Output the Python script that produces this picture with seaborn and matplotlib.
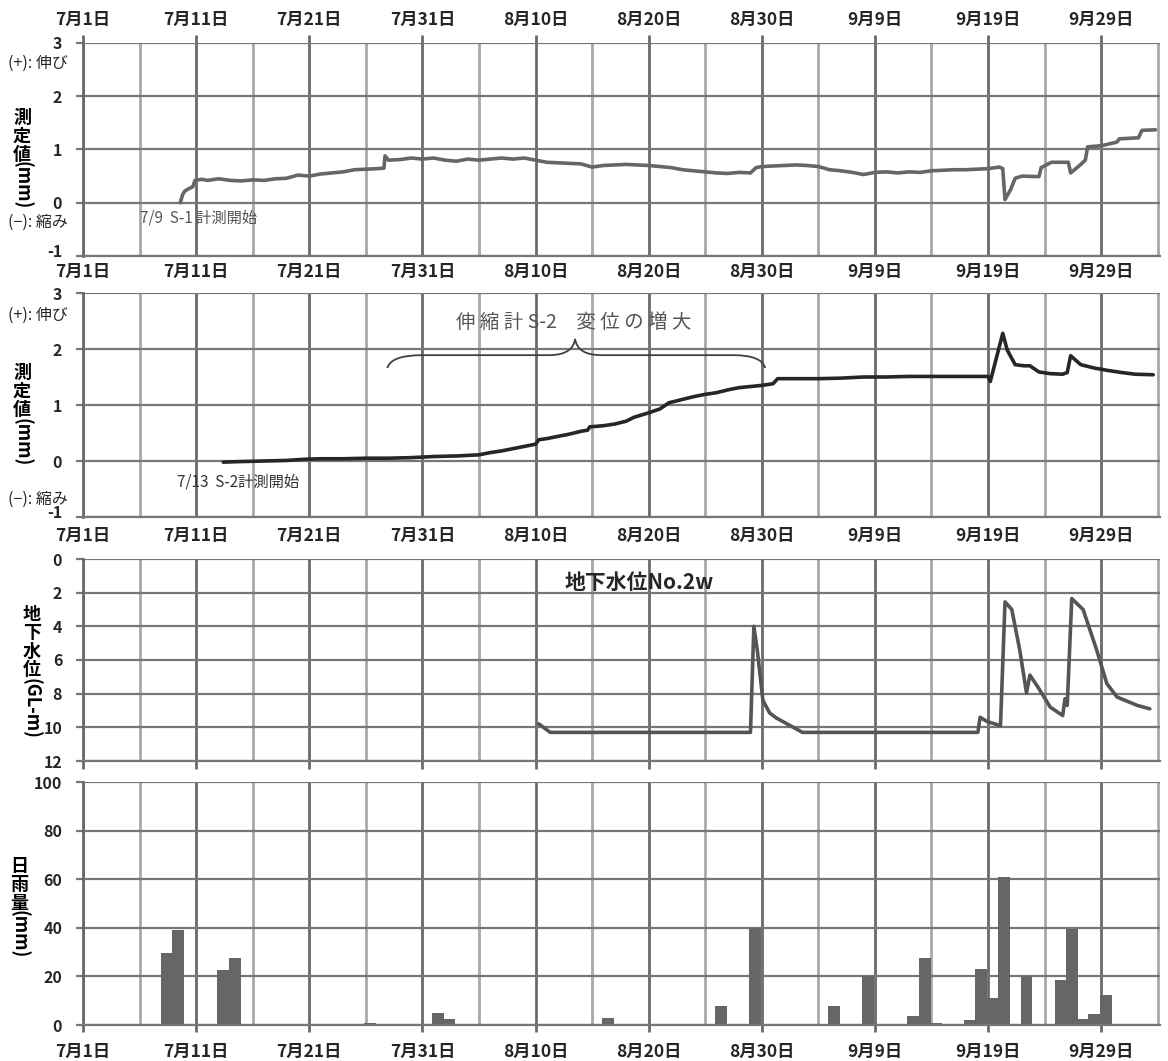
import numpy as np
import pandas as pd
import matplotlib
matplotlib.use('Agg')
import matplotlib.pyplot as plt
import matplotlib.transforms as mtransforms
from matplotlib.path import Path
from matplotlib.patches import PathPatch
import seaborn as sns

# 横軸は 7/1 からの経過日数
major_days = [0, 10, 20, 30, 40, 50, 60, 70, 80, 90]
minor_days = [5, 15, 25, 35, 45, 55, 65, 75, 85, 95]
date_labels = ['7月1日', '7月11日', '7月21日', '7月31日', '8月10日',
               '8月20日', '8月30日', '9月9日', '9月19日', '9月29日']

# 伸縮計 S-1 (mm)
s1_day = [8.6, 8.8, 9.0, 9.4, 9.7, 9.9, 10.5, 11, 12, 13, 14, 15, 16, 17, 18, 19, 20, 21, 22, 23,
          24, 25, 26, 26.6, 26.7, 27, 28, 29, 30, 31, 32, 33, 34, 35, 36, 37, 38, 39, 40, 41,
          42, 43, 44, 45, 46, 47, 48, 49, 50, 51, 52, 53, 54, 55, 56, 57, 58, 59, 59.5, 60,
          61, 62, 63, 64, 65, 66, 67, 68, 69, 70, 71, 72, 73, 74, 75, 76, 77, 78, 79, 80,
          81.0, 81.3, 81.5, 82.0, 82.4, 83, 84.5, 84.7, 85.6, 87.1, 87.3, 88.2, 88.6, 88.8, 90, 91,
          91.4, 91.6, 93.3, 93.6, 94.8]
s1_mm = [0.00, 0.15, 0.22, 0.27, 0.30, 0.42, 0.44, 0.42, 0.45, 0.42, 0.41, 0.43, 0.42, 0.45, 0.46, 0.52, 0.50, 0.54, 0.56, 0.58,
         0.62, 0.63, 0.64, 0.65, 0.88, 0.80, 0.81, 0.84, 0.82, 0.84, 0.80, 0.78, 0.82, 0.80, 0.82, 0.84, 0.82, 0.84, 0.80, 0.76,
         0.75, 0.74, 0.73, 0.67, 0.70, 0.71, 0.72, 0.71, 0.70, 0.68, 0.66, 0.62, 0.60, 0.58, 0.56, 0.55, 0.57, 0.56, 0.66, 0.68,
         0.69, 0.70, 0.71, 0.70, 0.68, 0.62, 0.60, 0.57, 0.53, 0.57, 0.58, 0.56, 0.58, 0.57, 0.60, 0.61, 0.62, 0.62, 0.63, 0.64,
         0.67, 0.64, 0.06, 0.25, 0.46, 0.50, 0.49, 0.66, 0.76, 0.76, 0.56, 0.72, 0.80, 1.05, 1.07, 1.12,
         1.14, 1.20, 1.22, 1.36, 1.37]

# 伸縮計 S-2 (mm)
s2_day = [12.4, 14, 16, 18, 19.5, 21, 23, 25, 27, 29, 31, 33, 35, 36, 37, 38, 39, 40, 40.3, 41,
          42, 43, 44, 44.6, 44.8, 46, 47, 48, 48.7, 49.5, 50, 51, 51.8, 53, 54, 55, 56, 57, 58, 59,
          60, 61, 61.4, 63, 65, 67, 69, 71, 73, 75, 77, 80, 80.2, 81.3, 81.7, 82.4, 83.2, 83.7, 84.5, 85.5,
          86.6, 87.0, 87.3, 88.2, 89.4, 90.5, 91.8, 93, 94.6]
s2_mm = [-0.02, -0.01, 0.00, 0.01, 0.03, 0.04, 0.04, 0.05, 0.05, 0.06, 0.08, 0.09, 0.11, 0.15, 0.18, 0.22, 0.26, 0.30, 0.38, 0.40,
         0.44, 0.48, 0.53, 0.55, 0.61, 0.63, 0.66, 0.71, 0.78, 0.83, 0.86, 0.93, 1.04, 1.10, 1.15, 1.19, 1.22, 1.27, 1.31, 1.33,
         1.35, 1.38, 1.47, 1.47, 1.47, 1.48, 1.50, 1.50, 1.51, 1.51, 1.51, 1.51, 1.42, 2.28, 1.98, 1.72, 1.70, 1.70, 1.59, 1.56,
         1.55, 1.58, 1.88, 1.72, 1.66, 1.62, 1.58, 1.55, 1.54]

# 地下水位 No.2w (GL-m)
gw_day = [40.3, 41.3, 59.0, 59.3, 59.6, 60.1, 60.7, 61.3, 63.6, 79.1, 79.3, 79.9, 81.1, 81.5, 82.1,
          82.8, 83.4, 83.7, 84.4, 85.5, 86.6, 86.8, 87.0, 87.4, 88.4, 89.6, 90.5, 91.4, 93.2, 94.3]
gw_m = [9.8, 10.3, 10.3, 4.0, 5.4, 8.4, 9.15, 9.45, 10.3, 10.3, 9.4, 9.65, 9.9, 2.55, 3.0,
        5.4, 7.95, 6.9, 7.6, 8.8, 9.3, 8.3, 8.7, 2.35, 3.0, 5.4, 7.4, 8.2, 8.7, 8.9]

# 日雨量 (mm)
rain_day = [7, 8, 12, 13, 16, 25, 31, 32, 38, 46, 56, 59, 66, 69, 73, 74, 75, 78, 79, 80,
            81, 83, 86, 87, 88, 89, 90]
rain_mm = [29.5, 39, 22.5, 27.5, 0.5, 1, 5, 2.5, 0.5, 3, 8, 40, 7.8, 20, 3.5, 27.5, 1, 2, 23, 11,
           61, 20, 18.5, 39.5, 2.5, 4.5, 12.5]

sns.set_theme(style='white')
plt.rcParams['font.family'] = ['Noto Sans CJK JP', 'DejaVu Sans']
plt.rcParams['axes.unicode_minus'] = False

W, H = 1168, 1061
fig = plt.figure(figsize=(W / 100, H / 100), dpi=100)
fig.patch.set_facecolor('white')


def box(l, t, r, b):
    return [l / W, 1 - b / H, (r - l) / W, (b - t) / H]


def ftext(x, y, s, **kw):
    fig.text(x / W, 1 - y / H, s, **kw)


ax1 = fig.add_axes(box(83, 43, 1160, 256))
ax2 = fig.add_axes(box(83, 293, 1160, 517))
ax3 = fig.add_axes(box(83, 559, 1160, 761))
ax4 = fig.add_axes(box(83, 782, 1160, 1025))

sns.lineplot(x=s1_day, y=s1_mm, ax=ax1, color='#666666', lw=2.6, estimator=None, sort=False)
sns.lineplot(x=s2_day, y=s2_mm, ax=ax2, color='#262626', lw=2.6, estimator=None, sort=False)
sns.lineplot(x=gw_day, y=gw_m, ax=ax3, color='#555555', lw=2.6, estimator=None, sort=False)
sns.barplot(x=[d + 0.4 for d in rain_day], y=rain_mm, ax=ax4, native_scale=True, orient='x',
            width=1.05, color='#666666', saturation=1, errorbar=None, linewidth=0)

TICK_FS = 12.5


def style(ax, ylim, yticks):
    ax.set_xlim(0, 95.2)
    ax.set_ylim(*ylim)
    ax.set_yticks(yticks, labels=[str(v) for v in yticks], fontweight='bold', fontsize=11.5)
    ax.set_xticks(major_days, labels=date_labels, fontweight='bold', fontsize=TICK_FS)
    ax.set_xticks(minor_days, minor=True)
    ax.grid(True, which='major', axis='x', color='#6a6a6a', lw=2)
    ax.grid(True, which='minor', axis='x', color='#a8a8a8', lw=2)
    ax.grid(True, which='major', axis='y', color='#777777', lw=1.6)
    ax.set_axisbelow(True)
    ax.set_xlabel('')
    ax.set_ylabel('')
    for s in ['top', 'right']:
        ax.spines[s].set_visible(False)
    ax.spines['left'].set_color('#6a6a6a')
    ax.spines['left'].set_linewidth(2)
    ax.spines['bottom'].set_color('#777777')
    ax.spines['bottom'].set_linewidth(1.6)
    ax.tick_params(axis='y', left=True, length=5, width=1.6, color='#777777', pad=10)
    ax.tick_params(axis='x', which='minor', length=0)


style(ax1, (-1, 3), [-1, 0, 1, 2, 3])
style(ax2, (-1, 3), [-1, 0, 1, 2, 3])
style(ax3, (12, 0), [0, 2, 4, 6, 8, 10, 12])
style(ax4, (0, 100), [0, 20, 40, 60, 80, 100])

ax1.tick_params(axis='x', which='major', bottom=True, length=0, pad=5)
top = ax1.secondary_xaxis('top')
top.set_xticks(major_days, labels=date_labels, fontweight='bold', fontsize=TICK_FS)
top.tick_params(length=6, width=2, color='#6a6a6a', pad=4)
top.spines['top'].set_visible(False)
ax2.tick_params(axis='x', which='major', bottom=True, length=0, pad=7)
ax3.tick_params(axis='x', which='major', bottom=True, labelbottom=False, length=6, width=2, color='#6a6a6a')
ax4.tick_params(axis='x', which='major', bottom=True, length=5, width=2, color='#6a6a6a', pad=8)

# 一番下の "-1" を少し上へずらして日付ラベルと重ならないようにする
fig.canvas.draw()
lift = mtransforms.ScaledTranslation(0, 5 / 100, fig.dpi_scale_trans)
for ax in (ax1, ax2):
    lbl = ax.get_yticklabels()[0]
    lbl.set_transform(lbl.get_transform() + lift)

# 縦書きの軸ラベル
lab = dict(ha='center', fontsize=13, fontweight='bold', color='black')
ftext(22, 136, '測\n定\n値', va='center', linespacing=0.95, **lab)
ftext(22, 161, '(mm)', va='top', rotation=-90, **lab)
ftext(22, 391, '測\n定\n値', va='center', linespacing=0.95, **lab)
ftext(22, 418, '(mm)', va='top', rotation=-90, **lab)
ftext(32, 642, '地\n下\n水\n位', va='center', linespacing=0.95, **lab)
ftext(31, 678, '(GL-m)', va='top', rotation=-90, **lab)
ftext(19, 885, '日\n雨\n量', va='center', linespacing=0.95, **lab)
ftext(19, 910, '(mm)', va='top', rotation=-90, **lab)

# 注記
ftext(8, 63, '(+): 伸び', ha='left', va='center', fontsize=11.5)
ftext(8, 222, '(−): 縮み', ha='left', va='center', fontsize=11.5)
ftext(8, 315, '(+): 伸び', ha='left', va='center', fontsize=11.5)
ftext(8, 499, '(−): 縮み', ha='left', va='center', fontsize=11.5)
ftext(140, 218, '7/9  S-1 計測開始', ha='left', va='center', fontsize=11, color='#555555')
ftext(177, 482, '7/13  S-2計測開始', ha='left', va='center', fontsize=11, color='#333333')
ftext(574, 322, '伸 縮 計 S-2　変 位 の 増 大', ha='center', va='center', fontsize=14, color='#555555')
ftext(565, 582, '地下水位No.2w', ha='left', va='center', fontsize=15, fontweight='bold')

# 中括弧
verts = [(26.9, 1.66), (27.2, 1.89), (30.0, 1.89), (41.2, 1.89), (43.3, 1.89), (43.5, 2.18),
         (43.7, 1.89), (45.8, 1.89), (57.5, 1.89), (60.0, 1.89), (60.3, 1.66)]
codes = [Path.MOVETO, Path.CURVE3, Path.CURVE3, Path.LINETO, Path.CURVE3, Path.CURVE3,
         Path.CURVE3, Path.CURVE3, Path.LINETO, Path.CURVE3, Path.CURVE3]
ax2.add_patch(PathPatch(Path(verts, codes), fill=False, color='#404040', lw=1.3, clip_on=False))

fig.savefig('out.png', dpi=100, facecolor='white')
